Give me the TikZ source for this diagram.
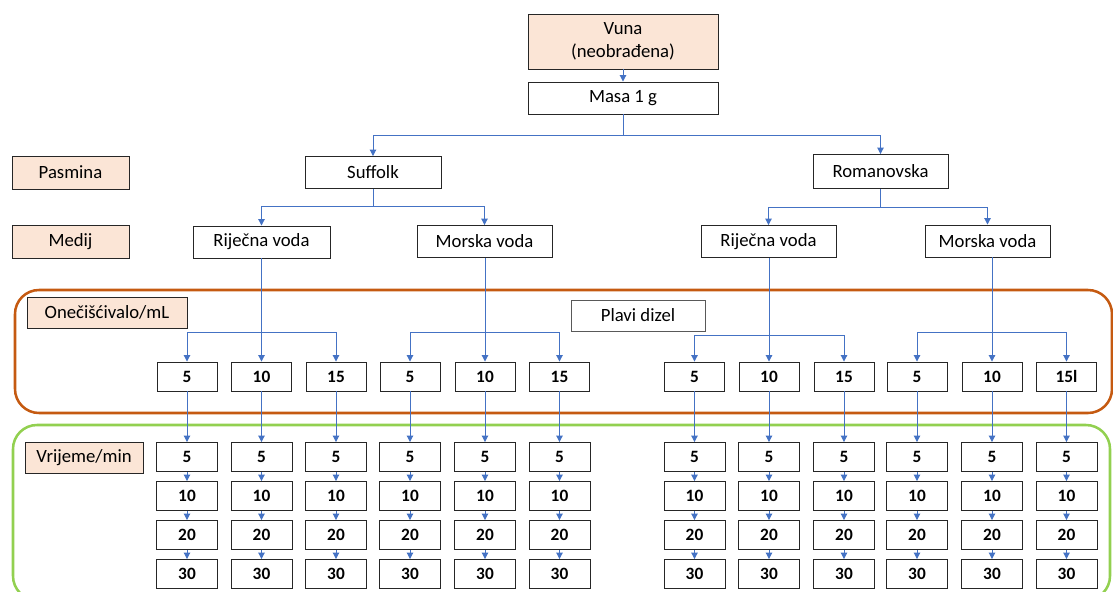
\documentclass[tikz,border=0pt]{standalone}
\usepackage{fontspec}
\setmainfont{Carlito}
\usetikzlibrary{arrows.meta}

\definecolor{peach}{HTML}{FBE5D6}
\definecolor{lineblue}{HTML}{4472C4}
\definecolor{frameorange}{HTML}{C55A11}
\definecolor{framegreen}{HTML}{92D050}

\tikzset{
  cell/.style={draw=black!85, line width=0.65pt, fill=white, inner sep=0pt, align=center,
    font=\fontsize{13.3}{16.4}\selectfont},
  tag/.style={cell, fill=peach},
  num/.style={cell, minimum width=1.5cm, minimum height=0.725cm,
    font=\fontsize{12.3}{14}\selectfont\bfseries},
  link/.style={draw=lineblue, line width=0.7pt},
  linkarr/.style={link, -{Triangle[length=4.5pt,width=4.5pt]}},
  frame/.style={line width=1.8pt, rounded corners=0.6cm}
}

\begin{document}
\begin{tikzpicture}[x=0.025cm, y=-0.025cm]
    \useasboundingbox (0,0) rectangle (1113,592);
    \clip (0,0) rectangle (1113,592);

% frames
    \draw[frame, frameorange] (15,290) rectangle (1112,413);
    \draw[frame, framegreen] (13,425) rectangle (1110,600);

% row labels
    \node[tag, minimum width=2.925cm, minimum height=0.825cm] (pasmina) at (70.5,172.5) {Pasmina};
    \node[tag, minimum width=2.925cm, minimum height=0.825cm] (medij) at (70.5,241.5) {Medij};
    \node[tag, minimum width=4cm, minimum height=0.775cm] (oneciscivalo) at (107,312.5) {Onečišćivalo/mL};
    \node[tag, minimum width=2.95cm, minimum height=0.775cm] (vrijeme) at (84,457.5) {Vrijeme/min};

% top
    \node[tag, minimum width=4.75cm, minimum height=1.375cm] (vuna) at (623,41.5) {Vuna\\(neobrađena)};
    \node[cell, minimum width=4.75cm, minimum height=0.8cm] (masa) at (623,98) {Masa 1 g};

    \node[cell, minimum width=3.4cm, minimum height=0.8cm] (suffolk) at (373,172.5) {Suffolk};
    \node[cell, minimum width=3.375cm, minimum height=0.85cm] (romanovska) at (880.5,171.5) {Romanovska};

    \node[cell, minimum width=3.425cm, minimum height=0.8cm] (rijecna1) at (261.5,242) {Riječna voda};
    \node[cell, minimum width=3.375cm, minimum height=0.8cm] (morska1) at (484.5,241.5) {Morska voda};
    \node[cell, minimum width=3.375cm, minimum height=0.8cm] (rijecna2) at (768.5,241.5) {Riječna voda};
    \node[cell, minimum width=3.125cm, minimum height=0.8cm] (morska2) at (987.5,241) {Morska voda};

    \node[cell, draw=black!65, minimum width=3.35cm, minimum height=0.775cm] (plavi) at (638,315.5) {Plavi dizel};

    \coordinate (split) at (623,135);
    \coordinate (s1) at (373,206);
    \coordinate (s2) at (880.5,207);

    \draw[linkarr] (vuna) -- (masa);
    \draw[link] (masa) -- (split);
    \draw[linkarr] (split) -| (suffolk);
    \draw[linkarr] (split) -| (romanovska);
    \draw[link] (suffolk) -- (s1);
    \draw[linkarr] (s1) -| (rijecna1);
    \draw[linkarr] (s1) -| (morska1);
    \draw[link] (romanovska) -- (s2);
    \draw[linkarr] (s2) -| (rijecna2);
    \draw[linkarr] (s2) -| (morska2);

% columns
    \foreach \x/\v [count=\i] in {187/5, 261.5/10, 336/15, 410/5, 485/10, 559.5/15,
        694.5/5, 769/10, 844/15, 917/5, 992/10, 1066.5/15l} {
      \node[num] (c\i) at (\x,376.5) {\v};
      \foreach \y/\t [count=\j] in {457/5, 496/10, 535/20, 574/30}
        \node[num, minimum width=1.525cm] (t\i-\j) at (\x,\y) {\t};
      \draw[linkarr] (c\i) -- (t\i-1);
      \foreach \j/\k in {1/2, 2/3, 3/4}
        \draw[linkarr] (t\i-\j) -- (t\i-\k);
    }

% medium to amount
    \coordinate (b1) at (261.5,332);
    \coordinate (b2) at (485,332);
    \coordinate (b3) at (769,335);
    \coordinate (b4) at (992,332);

    \draw[linkarr] (rijecna1.south -| c2) -- (c2);
    \draw[linkarr] (b1) -| (c1);
    \draw[linkarr] (b1) -| (c3);
    \draw[linkarr] (morska1.south -| c5) -- (c5);
    \draw[linkarr] (b2) -| (c4);
    \draw[linkarr] (b2) -| (c6);
    \draw[linkarr] (rijecna2.south -| c8) -- (c8);
    \draw[linkarr] (b3) -| (c7);
    \draw[linkarr] (b3) -| (c9);
    \draw[linkarr] (morska2.south -| c11) -- (c11);
    \draw[linkarr] (b4) -| (c10);
    \draw[linkarr] (b4) -| (c12);

\end{tikzpicture}
\end{document}
